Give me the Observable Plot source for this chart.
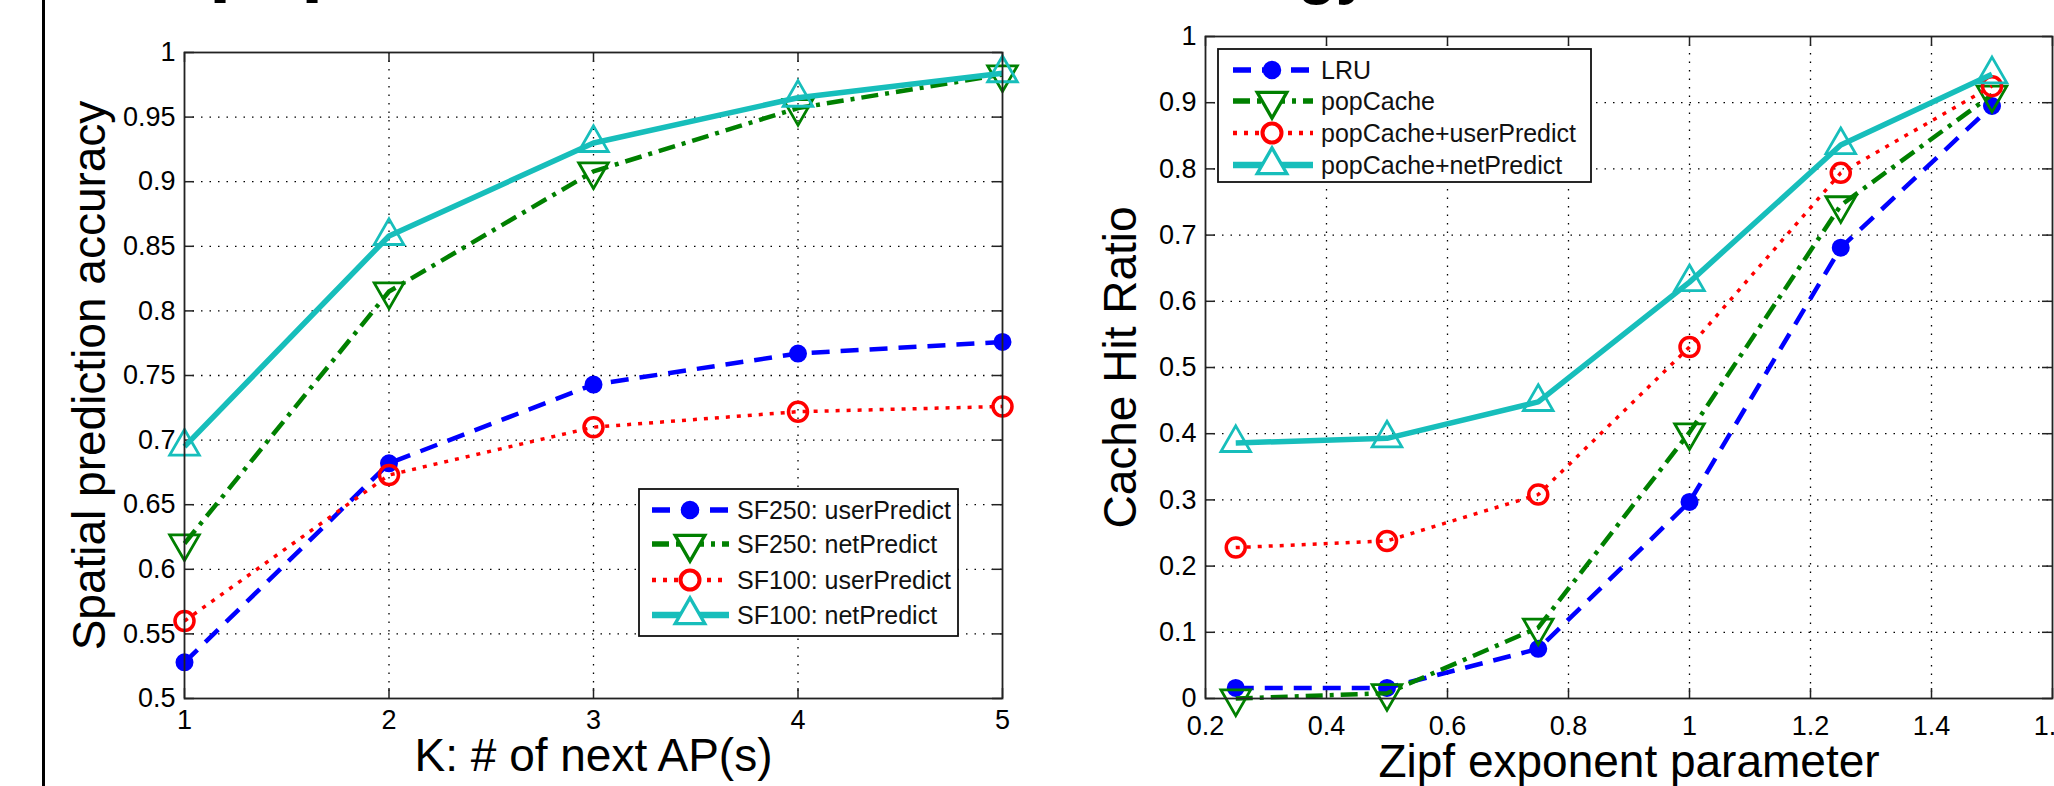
<!DOCTYPE html>
<html><head><meta charset="utf-8">
<script src="https://cdn.jsdelivr.net/npm/d3@7"></script>
<script src="https://cdn.jsdelivr.net/npm/@observablehq/plot@0.6"></script>
<style>
html,body{margin:0;padding:0;background:#fff;overflow:hidden;}
#page{position:relative;width:2054px;height:786px;overflow:hidden;background:#fff;font-family:"Liberation Sans",Arial,Helvetica,sans-serif;}
.abs{position:absolute;}
</style></head><body><div id="page"></div>
<script>
// ---------- data ----------
const kValues = [1, 2, 3, 4, 5];
const sf250UserPredict = [0.528, 0.682, 0.743, 0.767, 0.776];
const sf250NetPredict  = [0.620, 0.815, 0.908, 0.957, 0.983];
const sf100UserPredict = [0.560, 0.673, 0.710, 0.722, 0.726];
const sf100NetPredict  = [0.695, 0.858, 0.930, 0.965, 0.984];
const leftNames = ["SF250: userPredict", "SF250: netPredict", "SF100: userPredict", "SF100: netPredict"];

const zipfValues = [0.25, 0.5, 0.75, 1.0, 1.25, 1.5];
const lruHit          = [0.016, 0.016, 0.075, 0.297, 0.681, 0.895];
const popCacheHit     = [0.000, 0.008, 0.107, 0.402, 0.745, 0.912];
const popUserHit      = [0.228, 0.238, 0.308, 0.531, 0.794, 0.925];
const popNetHit       = [0.386, 0.393, 0.448, 0.629, 0.836, 0.943];
const rightNames = ["LRU", "popCache", "popCache+userPredict", "popCache+netPredict"];

const leftXTicks = [1, 2, 3, 4, 5];
const leftYTicks = [0.5, 0.55, 0.6, 0.65, 0.7, 0.75, 0.8, 0.85, 0.9, 0.95, 1];
const rightXTicks = [0.2, 0.4, 0.6, 0.8, 1, 1.2, 1.4, 1.6];
const rightYTicks = [0, 0.1, 0.2, 0.3, 0.4, 0.5, 0.6, 0.7, 0.8, 0.9, 1];

const leftXLabel = "K: # of next AP(s)";
const leftYLabel = "Spatial prediction accuracy";
const rightXLabel = "Zipf exponent parameter";
const rightYLabel = "Cache Hit Ratio";

// ---------- styles ----------
const FONT = "'Liberation Sans', Arial, Helvetica, sans-serif";
const seriesStyles = [
  {color: "#0000ff", dash: "18,11", width: 4.5, symbol: "circle", fill: true, r: 8, rotate: 0, sw: 2},
  {color: "#008000", dash: "17,7,4,7", width: 4.5, symbol: "triangle", fill: false, r: 11, rotate: 180, sw: 2.8},
  {color: "#ff0000", dash: "4,7", width: 3.5, symbol: "circle", fill: false, r: 9.5, rotate: 0, sw: 3.5},
  {color: "#17bebb", dash: null, width: 5.5, symbol: "triangle", fill: false, r: 11, rotate: 0, sw: 2.8}
];
const fmt = d3.format("~g");
const page = document.getElementById("page");

function makeChart(cfg) {
  const plotW = cfg.width - cfg.ml - cfg.mr;
  const plotH = cfg.height - cfg.mt - cfg.mb;
  const marks = [];
  marks.push(Plot.ruleX(cfg.xTicks.slice(1, -1), {x: d => d, stroke: "#000", strokeWidth: 1.3, strokeDasharray: "1.5,7"}));
  marks.push(Plot.ruleY(cfg.yTicks.slice(1, -1), {y: d => d, stroke: "#000", strokeWidth: 1.3, strokeDasharray: "1.5,7"}));
  const tk = {stroke: "#222", strokeWidth: 1.5};
  marks.push(Plot.ruleX(cfg.xTicks, {x: d => d, insetTop: plotH - 10, ...tk}));
  marks.push(Plot.ruleX(cfg.xTicks, {x: d => d, insetBottom: plotH - 10, ...tk}));
  marks.push(Plot.ruleY(cfg.yTicks, {y: d => d, insetRight: plotW - 10, ...tk}));
  marks.push(Plot.ruleY(cfg.yTicks, {y: d => d, insetLeft: plotW - 10, ...tk}));
  marks.push(Plot.axisX(cfg.xTicks, {tickSize: 0, tickPadding: cfg.xPad, tickFormat: fmt, label: null, fontSize: 27, fill: "#000"}));
  marks.push(Plot.axisY(cfg.yTicks, {tickSize: 0, tickPadding: 9, tickFormat: fmt, label: null, fontSize: 27, fill: "#000"}));
  cfg.series.forEach((vals, i) => {
    const st = seriesStyles[i];
    const rows = cfg.xs.map((x, j) => ({x, y: vals[j]}));
    marks.push(Plot.line(rows, {x: "x", y: "y", stroke: st.color, strokeWidth: st.width,
      strokeDasharray: st.dash || undefined, strokeLinecap: "butt"}));
    marks.push(Plot.dot(rows, {x: "x", y: "y", symbol: st.symbol, r: st.r, rotate: st.rotate,
      fill: st.fill ? st.color : "none", stroke: st.color, strokeWidth: st.sw}));
  });
  marks.push(Plot.frame({stroke: "#222", strokeWidth: 1.8}));
  marks.push(Plot.text([cfg.xLabel], {text: d => d, frameAnchor: "bottom", textAnchor: "middle", dy: cfg.xLabelOffset, lineAnchor: "bottom", fontSize: 46, fill: "#000"}));
  marks.push(Plot.text([cfg.yLabel], {text: d => d, frameAnchor: "left", textAnchor: "middle", dx: -cfg.yLabelOffset, rotate: -90, lineAnchor: "top", fontSize: 46, fill: "#000"}));

  const svg = Plot.plot({
    width: cfg.width, height: cfg.height,
    marginLeft: cfg.ml, marginRight: cfg.mr, marginTop: cfg.mt, marginBottom: cfg.mb,
    x: {domain: cfg.xDomain, axis: null},
    y: {domain: cfg.yDomain, axis: null},
    style: {fontFamily: FONT, fontSize: "27px", background: "transparent", overflow: "visible"},
    marks
  });
  svg.classList.add("abs");
  svg.style.left = cfg.left + "px";
  svg.style.top = "0px";
  page.appendChild(svg);
}

makeChart({
  left: 0, width: 1030, height: 786, ml: 184, mr: 28, mt: 52, mb: 88,
  xDomain: [1, 5], yDomain: [0.5, 1], xTicks: leftXTicks, yTicks: leftYTicks, xPad: 11,
  xs: kValues, series: [sf250UserPredict, sf250NetPredict, sf100UserPredict, sf100NetPredict],
  xLabel: leftXLabel, yLabel: leftYLabel, xLabelOffset: 72, yLabelOffset: 112
});
makeChart({
  left: 1030, width: 1024, height: 786, ml: 175, mr: 2, mt: 36, mb: 88,
  xDomain: [0.2, 1.6], yDomain: [0, 1], xTicks: rightXTicks, yTicks: rightYTicks, xPad: 17,
  xs: zipfValues, series: [lruHit, popCacheHit, popUserHit, popNetHit],
  xLabel: rightXLabel, yLabel: rightYLabel, xLabelOffset: 78, yLabelOffset: 102
});

function legend(box, names) {
  const svg = d3.select(page).append("svg").attr("class", "abs")
    .style("left", box.x + "px").style("top", box.y + "px")
    .attr("width", box.w).attr("height", box.h);
  svg.append("rect").attr("x", 1).attr("y", 1).attr("width", box.w - 2).attr("height", box.h - 2)
    .attr("fill", "#fff").attr("stroke", "#111").attr("stroke-width", 1.8);
  names.forEach((name, i) => {
    const st = seriesStyles[i];
    const y = box.rows[i];
    svg.append("line").attr("x1", box.l1).attr("x2", box.l2).attr("y1", y).attr("y2", y)
      .attr("stroke", st.color).attr("stroke-width", st.width + 1)
      .attr("stroke-dasharray", st.dash || null);
    const sym = st.symbol === "circle" ? d3.symbolCircle : d3.symbolTriangle;
    svg.append("path").attr("d", d3.symbol(sym, Math.PI * st.r * st.r)())
      .attr("transform", `translate(${box.mx},${y}) rotate(${st.rotate})`)
      .attr("fill", st.fill ? st.color : "#fff").attr("stroke", st.color).attr("stroke-width", st.sw + 0.5);
    svg.append("text").attr("x", box.tx).attr("y", y).attr("dy", "0.36em")
      .attr("font-family", FONT).attr("font-size", box.fs).attr("fill", "#111").text(name);
  });
}
legend({x: 638, y: 488, w: 321, h: 149, rows: [22, 56, 92, 127], l1: 14, l2: 91, mx: 52, tx: 99, fs: 25}, leftNames);
legend({x: 1217, y: 48, w: 375, h: 135, rows: [22, 53, 85, 117], l1: 16, l2: 96, mx: 55, tx: 104, fs: 25}, rightNames);

d3.select(page).append("div").attr("class", "abs")
  .style("left", "42px").style("top", "0px").style("width", "3px").style("height", "786px").style("background", "#000");
const titleSvg = d3.select(page).append("svg").attr("class", "abs").style("left", "0px").style("top", "0px")
  .attr("width", 2054).attr("height", 30);
const titleBits = [{x: 209, y: -14, t: "p", fs: 80}, {x: 301, y: -14, t: "p", fs: 80}, {x: 1298, y: -8, t: "gy", fs: 62}];
titleBits.forEach(b => titleSvg.append("text").attr("x", b.x).attr("y", b.y).attr("font-family", FONT)
  .attr("font-weight", "bold").attr("font-size", b.fs).attr("fill", "#000").text(b.t));
</script>
</body></html>
